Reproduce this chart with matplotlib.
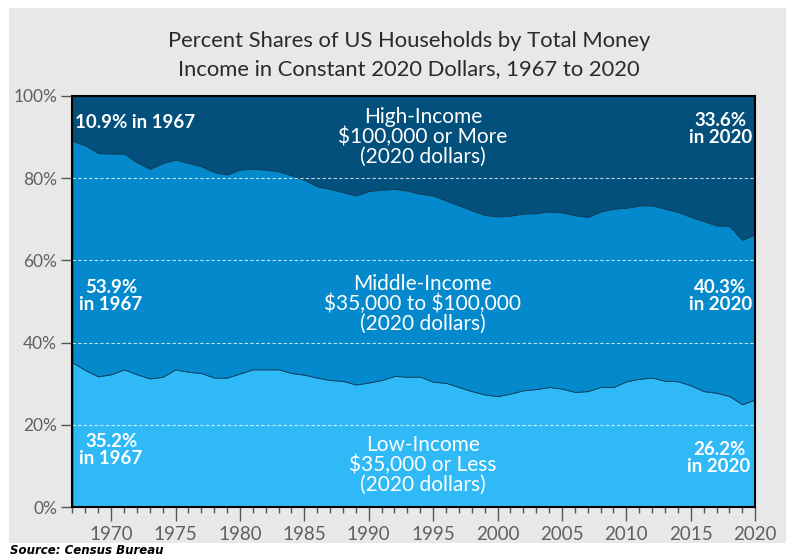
import matplotlib
matplotlib.use('Agg')
import matplotlib.pyplot as plt
from matplotlib.patches import Rectangle
from matplotlib.ticker import MultipleLocator
import numpy as np

# Datos: porcentaje de hogares por grupo de ingreso (dólares de 2020)
years = list(range(1967, 2021))

low_income = [35.2, 33.3, 31.8, 32.3, 33.5, 32.3, 31.3, 31.7, 33.5, 32.9,
              32.6, 31.5, 31.5, 32.5, 33.5, 33.5, 33.5, 32.6, 32.2, 31.5,
              30.9, 30.7, 29.8, 30.3, 30.9, 31.9, 31.7, 31.7, 30.5, 30.2,
              29.2, 28.2, 27.4, 27.0, 27.6, 28.4, 28.7, 29.2, 28.8, 28.0,
              28.2, 29.2, 29.2, 30.6, 31.2, 31.5, 30.7, 30.6, 29.6, 28.2,
              27.8, 27.0, 25.0, 26.2]

middle_income = [53.9, 54.7, 54.3, 53.7, 52.5, 51.6, 51.0, 52.0, 51.0, 50.8,
                 50.3, 50.0, 49.4, 49.6, 48.8, 48.6, 48.2, 48.1, 47.4, 46.5,
                 46.5, 45.9, 46.0, 46.6, 46.3, 45.5, 45.3, 44.5, 45.3, 44.4,
                 44.2, 44.0, 43.7, 43.7, 43.3, 43.0, 42.8, 42.7, 42.9, 43.0,
                 42.4, 42.7, 43.4, 42.2, 42.2, 41.9, 41.9, 41.2, 41.0, 41.4,
                 40.7, 41.4, 40.0, 40.2]

high_income = [10.9, 12.0, 13.9, 14.0, 14.0, 16.1, 17.7, 16.3, 15.5, 16.3,
               17.1, 18.5, 19.1, 17.9, 17.7, 17.9, 18.3, 19.3, 20.4, 22.0,
               22.6, 23.4, 24.2, 23.1, 22.8, 22.6, 23.0, 23.8, 24.2, 25.4,
               26.6, 27.8, 28.9, 29.3, 29.1, 28.6, 28.5, 28.1, 28.3, 29.0,
               29.4, 28.1, 27.4, 27.2, 26.6, 26.6, 27.4, 28.2, 29.4, 30.4,
               31.5, 31.6, 35.0, 33.6]

y_ticks = [0, 20, 40, 60, 80, 100]
y_tick_labels = ['0%', '20%', '40%', '60%', '80%', '100%']
x_ticks = [1970, 1975, 1980, 1985, 1990, 1995, 2000, 2005, 2010, 2015, 2020]

# Colores
c_low = '#2fb9f7'
c_mid = '#0389cc'
c_high = '#02507b'
c_bg = '#e8e8e8'
font = ['Lato', 'DejaVu Sans']

fig = plt.figure(figsize=(7.92, 5.6), dpi=100, facecolor='white')
# Panel gris de fondo
fig.patches.append(Rectangle((0.0114, 0.0304), 0.981, 0.955,
                             transform=fig.transFigure, facecolor=c_bg,
                             edgecolor='none', zorder=-10))

ax = fig.add_axes([0.0915, 0.0946, 0.862, 0.734])
ax.stackplot(years, low_income, middle_income, high_income,
             colors=[c_low, c_mid, c_high], edgecolor='#0b3d5a', linewidth=0.6)

ax.set_xlim(1967, 2020)
ax.set_ylim(0, 100)

# Líneas de referencia discontinuas
for g in [20, 40, 60, 80]:
    ax.axhline(g, color='white', linestyle=(0, (3, 2)), linewidth=0.8, alpha=0.75)

ax.set_yticks(y_ticks)
ax.set_yticklabels(y_tick_labels, family=font, fontsize=12.5, color='#606060')
ax.set_xticks(x_ticks)
ax.set_xticklabels([str(x) for x in x_ticks], family=font, fontsize=13.5, color='#606060')
ax.xaxis.set_minor_locator(MultipleLocator(1))
ax.tick_params(axis='y', length=8, width=1, color='#555555', pad=3)
ax.tick_params(axis='x', which='major', length=10, width=1, color='#555555', pad=4)
ax.tick_params(axis='x', which='minor', length=4, width=1, color='#555555')
for s in ax.spines.values():
    s.set_color('black')
    s.set_linewidth(1.5)

# Título
fig.text(409 / 792, 1 - 55 / 560,
         'Percent Shares of US Households by Total Money\nIncome in Constant 2020 Dollars, 1967 to 2020',
         ha='center', va='center', family=font, fontweight='normal',
         fontsize=15.8, color='#2a2a2a', linespacing=1.5)

# Etiquetas de los grupos
lab = dict(color='white', family=font, fontsize=15, ha='center', va='center',
           linespacing=0.98)
ax.text(1994.2, 90.0, 'High-Income\n\\$100,000 or More\n(2020 dollars)', **lab)
ax.text(1994.2, 49.5, 'Middle-Income\n\\$35,000 to \\$100,000\n(2020 dollars)', **lab)
ax.text(1994.2, 10.2, 'Low-Income\n\\$35,000 or Less\n(2020 dollars)', **lab)

bold = {**lab, 'fontweight': 'bold', 'fontsize': 13.5, 'linespacing': 1.0}
ax.text(1967.2, 93.6, '10.9% in 1967', **{**bold, 'ha': 'left'})
ax.text(1970.0, 51.3, '53.9%\nin 1967', **bold)
ax.text(1970.0, 13.8, '35.2%\nin 1967', **bold)
ax.text(2017.3, 91.9, '33.6%\nin 2020', **bold)
ax.text(2017.3, 51.3, '40.3%\nin 2020', **bold)
ax.text(2017.2, 12.0, '26.2%\nin 2020', **bold)

# Fuente
fig.text(10 / 792, 1 - 551 / 560, 'Source: Census Bureau', ha='left', va='center',
         fontsize=8.5, fontweight='bold', fontstyle='italic', family='DejaVu Sans',
         color='black')

fig.savefig('out.png', dpi=100, facecolor='white')
